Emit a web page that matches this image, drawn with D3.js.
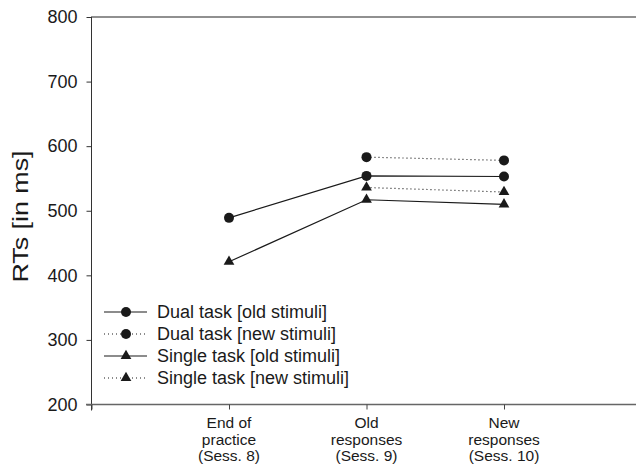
<!DOCTYPE html>
<html><head><meta charset="utf-8">
<script src="https://cdn.jsdelivr.net/npm/d3@7"></script>
<style>body{margin:0;background:#fff}svg{display:block}text{font-family:"Liberation Sans",Arial,sans-serif;fill:#1a1a1a}</style>
</head><body><svg id="c" width="636" height="465"></svg>
<script>
const categories = [["End of","practice","(Sess. 8)"],["Old","responses","(Sess. 9)"],["New","responses","(Sess. 10)"]];
const catPos = [1,2,3];
const yTicks = [200,300,400,500,600,700,800];
const dualOld = [489, 554, 553];
const dualNew = [null, 583, 578];
const singleOld = [421, 517, 510];
const singleNew = [null, 536, 529];
const seriesNames = ["Dual task [old stimuli]","Dual task [new stimuli]","Single task [old stimuli]","Single task [new stimuli]"];

const series = [
  {name:seriesNames[0], vals:dualOld, dash:null, marker:"circle"},
  {name:seriesNames[1], vals:dualNew, dash:"1,3", marker:"circle"},
  {name:seriesNames[2], vals:singleOld, dash:null, marker:"triangle"},
  {name:seriesNames[3], vals:singleNew, dash:"1,3", marker:"triangle"}
];

const svg = d3.select("#c");
const x = d3.scaleLinear().domain([0,4]).range([91.5,641.5]);
const y = d3.scaleLinear().domain([200,800]).range([404.5,17]);
const ink = "#1a1a1a";

// top border
svg.append("line").attr("x1",91).attr("x2",636).attr("y1",y(800)).attr("y2",y(800)).attr("stroke","#222").attr("stroke-width",1.2);

// y axis
const ya = svg.append("g").attr("transform","translate(91.5,0)")
  .call(d3.axisLeft(y).tickValues(yTicks).tickSize(5).tickPadding(9).tickSizeOuter(0));
ya.select(".domain").attr("stroke","#333").attr("d",`M0,${y(800)}V${y(200)+6}`);
ya.selectAll(".tick line").attr("stroke","#333");
ya.selectAll("text").attr("font-size","18px").attr("fill",ink).style("font-family","Liberation Sans, Arial, sans-serif");

// x axis
const xa = svg.append("g").attr("transform",`translate(0,${y(200)})`)
  .call(d3.axisBottom(x).tickValues([0,1,2,3]).tickSize(5).tickFormat("").tickSizeOuter(0));
xa.select(".domain").attr("stroke","#666").attr("stroke-width",1.3).attr("d",`M86,0H636`);
xa.selectAll(".tick line").attr("stroke","#444");

// x labels
catPos.forEach((c,i)=>{
  const t = svg.append("text").attr("text-anchor","middle").attr("font-size","15.5px");
  categories[i].forEach((ln,j)=>{
    t.append("tspan").attr("x",x(c)).attr("y",428+j*16.5).text(ln);
  });
});

// y label
svg.append("text").attr("transform",`translate(28,216.5) rotate(-90) scale(1.22,1)`).attr("text-anchor","middle")
  .attr("font-size","22px").text("RTs [in ms]");

function drawMarker(g, type, cx, cy){
  if(type==="circle") g.append("circle").attr("cx",cx).attr("cy",cy).attr("r",5).attr("fill",ink);
  else g.append("path").attr("d",d3.symbol().type(d3.symbolTriangle).size(50)()).attr("transform",`translate(${cx},${cy})`).attr("fill",ink);
}

const line = d3.line().defined(d=>d.v!=null).x(d=>x(d.c)).y(d=>y(d.v));
series.forEach(s=>{
  const pts = s.vals.map((v,i)=>({c:catPos[i], v}));
  svg.append("path").datum(pts).attr("d",line).attr("fill","none").attr("stroke",ink)
    .attr("stroke-width",1.2).attr("stroke-dasharray",s.dash);
  const g = svg.append("g");
  pts.filter(p=>p.v!=null).forEach(p=>drawMarker(g,s.marker,x(p.c),y(p.v)));
});

// legend
series.forEach((s,i)=>{
  const ly = 312 + i*22;
  svg.append("line").attr("x1",104).attr("x2",147).attr("y1",ly).attr("y2",ly).attr("stroke",ink)
    .attr("stroke-width",1.2).attr("stroke-dasharray",s.dash);
  drawMarker(svg.append("g"), s.marker, 126, ly);
  svg.append("text").attr("x",157).attr("y",ly).attr("dy","0.35em").attr("font-size","18px").text(s.name);
});
</script></body></html>
